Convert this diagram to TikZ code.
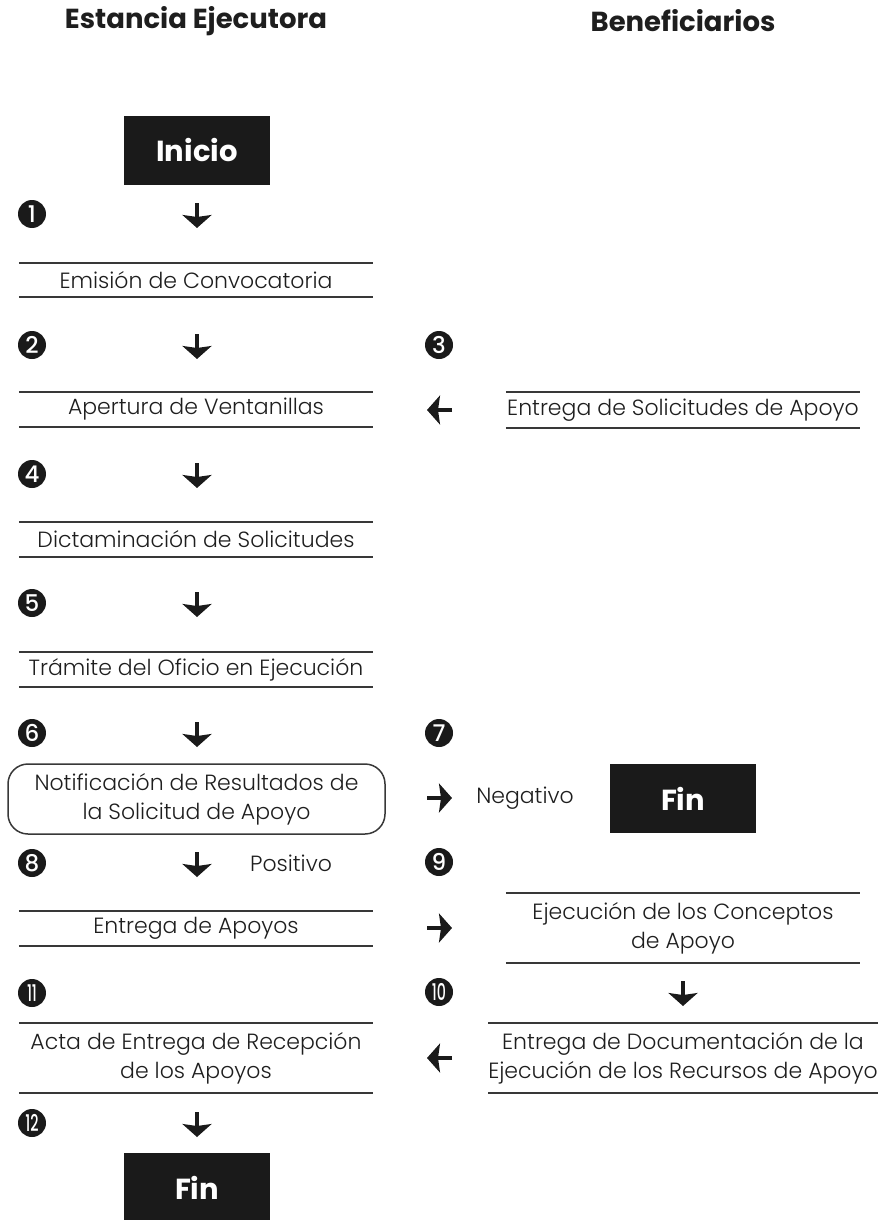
\documentclass[tikz,border=0pt]{standalone}
\usepackage{fontspec}
\setmainfont{Poppins}[UprightFont={* Light},BoldFont={* Bold}]
\newfontfamily\numfont{Poppins}[UprightFont={* Medium}]
\usetikzlibrary{arrows.meta}
\definecolor{ink}{HTML}{1E1E1E}
\definecolor{rulec}{HTML}{383838}
\definecolor{boxc}{HTML}{1A1A1A}
\begin{document}
\begin{tikzpicture}[x=1pt,y=-1pt,
  every node/.style={text=ink},
  body/.style={font=\fontsize{22}{29}\selectfont, align=center},
  stepbox/.style={body, minimum width=354pt, inner sep=0pt},
  roundbox/.style={body, draw=rulec, line width=1.5pt, rounded corners=20pt, minimum width=377pt, minimum height=70pt, inner sep=0pt},
  rulel/.style={draw=rulec, line width=1.6pt},
  title/.style={font=\fontsize{27.5}{27.5}\selectfont\bfseries},
  blackbox/.style={fill=boxc, text=white, font=\fontsize{29}{29}\selectfont\bfseries, minimum width=146pt, minimum height=69pt, inner sep=0pt},
  numc/.style={circle, fill=boxc, text=white, minimum size=28pt, inner sep=0pt, font=\numfont\fontsize{23}{23}\selectfont},
  arr/.style={draw=boxc, line width=4.5pt, -{Stealth[length=13pt,width=29pt,inset=2pt]}},
  lbl/.style={font=\fontsize{22}{22}\selectfont}
]
\path[use as bounding box] (0,0) rectangle (880,1220);

% titles
\node[title] (t1) at (196,21) {Estancia Ejecutora};
\node[title] (t2) at (683,21) {Beneficiarios};

% start / end boxes
\node[blackbox] (inicio) at (197,150.5) {Inicio};
\node[blackbox] (fin7) at (683,798.5) {Fin};
\node[blackbox] (fin12) at (197,1187.5) {Fin};

% left steps
\node[stepbox, minimum height=34pt] (e1) at (196,280) {Emisión de Convocatoria};
\node[stepbox, minimum height=35pt] (e2) at (196,409.5) {Apertura de Ventanillas};
\node[stepbox, minimum height=35pt] (e4) at (196,539.5) {Dictaminación de Solicitudes};
\node[stepbox, minimum height=35pt] (e5) at (196,669.5) {Trámite del Oficio en Ejecución};
\node[roundbox] (e6) at (196.5,799) {Notificación de Resultados de\\la Solicitud de Apoyo};
\node[stepbox, minimum height=35pt] (e8) at (196,928.5) {Entrega de Apoyos};
\node[stepbox, minimum height=70pt] (e11) at (196,1058) {Acta de Entrega de Recepción\\de los Apoyos};

% right steps
\node[stepbox, minimum height=36pt] (b3) at (683,410) {Entrega de Solicitudes de Apoyo};
\node[stepbox, minimum height=70pt] (b9) at (683,928) {Ejecución de los Conceptos\\de Apoyo};
\node[stepbox, minimum height=70pt] (b10) at (683,1058) {Entrega de Documentación de la\\Ejecución de los Recursos de Apoyo};

\foreach \n in {e1,e2,e4,e5,e8,e11,b3,b9,b10}{
  \draw[rulel] (\n.north west) -- (\n.north east);
  \draw[rulel] (\n.south west) -- (\n.south east);
}

% number circles
\node[numc] (n1) at (32,214) {1};
\node[numc] (n2) at (32,345) {2};
\node[numc] (n3) at (439,345) {3};
\node[numc] (n4) at (32,474) {4};
\node[numc] (n5) at (32,603) {5};
\node[numc] (n6) at (32,733) {6};
\node[numc] (n7) at (439,733) {7};
\node[numc] (n8) at (32,863) {8};
\node[numc] (n9) at (439,862) {9};
\node[numc] (n10) at (439,992) {\scalebox{0.62}[1]{10}};
\node[numc] (n11) at (32,993) {\scalebox{0.62}[1]{11}};
\node[numc] (n12) at (32,1123) {\scalebox{0.62}[1]{12}};

% labels
\node[lbl] (neg) at (525,798) {Negativo};
\node[lbl] (pos) at (291,863) {Positivo};

% arrow end points
\foreach \k/\y in {1/214,2/345,4/474,5/603,6/733,8/863,12/1123}{
  \coordinate (d\k s) at (197,\y-11);
  \coordinate (d\k e) at (197,\y+14);
}
\coordinate (d10s) at (683,981);
\coordinate (d10e) at (683,1006);
\coordinate (h3s) at (452,410);   \coordinate (h3e) at (427,410);
\coordinate (h7s) at (427,798);   \coordinate (h7e) at (452,798);
\coordinate (h9s) at (427,928);   \coordinate (h9e) at (452,928);
\coordinate (h10s) at (452,1058); \coordinate (h10e) at (427,1058);

\foreach \k in {1,2,4,5,6,8,12,10}{
  \draw[arr] (d\k s) -- (d\k e);
}
\foreach \k in {3,7,9,10}{
  \draw[arr] (h\k s) -- (h\k e);
}
\end{tikzpicture}
\end{document}
